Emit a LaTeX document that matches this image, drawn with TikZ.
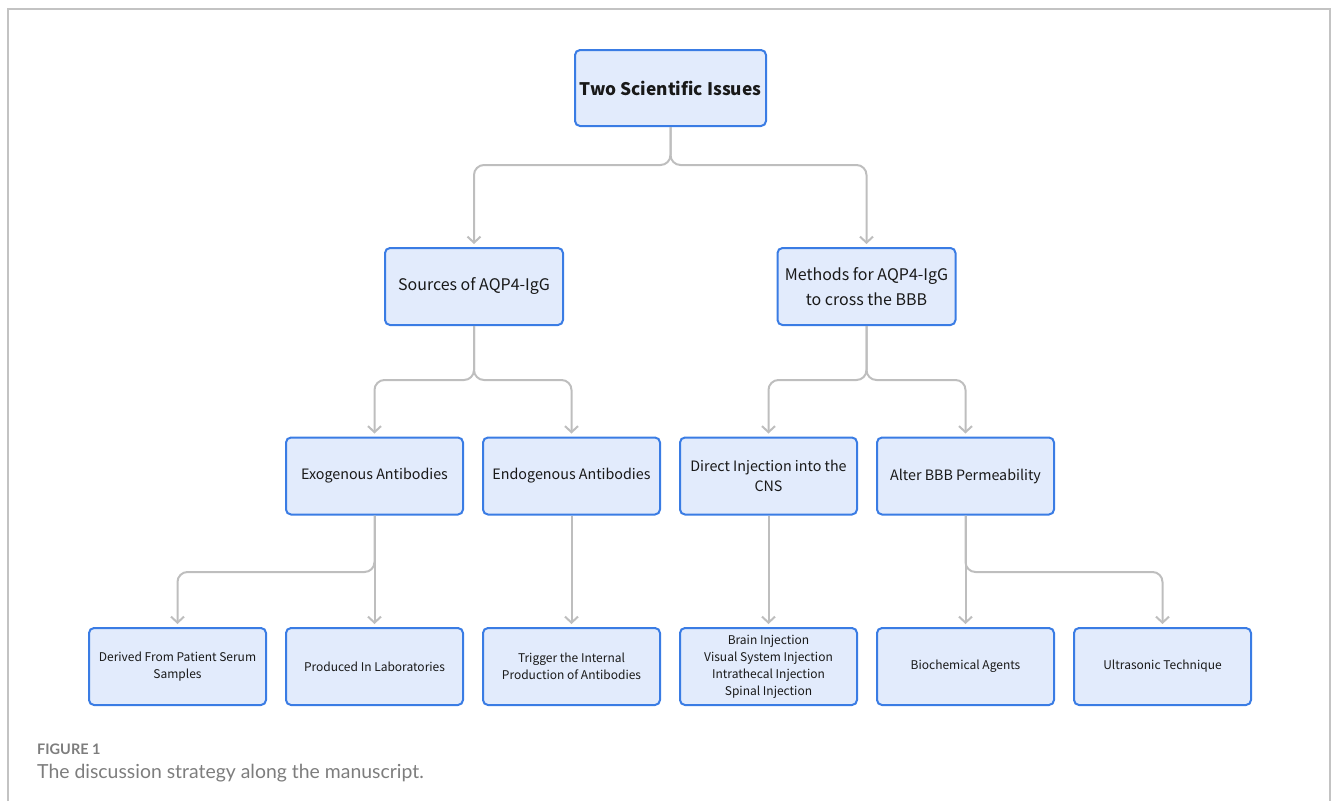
\documentclass[tikz,border=0pt]{standalone}
\usepackage{fontspec}
\setmainfont{Noto Sans CJK SC}
\newfontfamily\capfont{Lato}
\usetikzlibrary{arrows.meta}
\definecolor{boxfill}{RGB}{226,235,252}
\definecolor{boxline}{RGB}{58,124,228}
\definecolor{connline}{RGB}{190,190,190}
\definecolor{framegray}{RGB}{195,195,195}
\definecolor{capgray}{RGB}{125,125,125}
\tikzset{
  box/.style={draw=boxline, fill=boxfill, line width=2pt, rounded corners=5pt,
    minimum width=177pt, minimum height=77pt, inner sep=2pt, align=center, text=black!90},
  lvtop/.style={box, minimum width=191pt, minimum height=76pt, font=\fontsize{17.3}{21}\selectfont\bfseries},
  lvtwo/.style={box, minimum width=178pt, font=\fontsize{16}{25}\selectfont},
  lvthree/.style={box, font=\fontsize{14.3}{20}\selectfont},
  lvfour/.style={box, font=\fontsize{12}{17}\selectfont},
  conn/.style={draw=connline, line width=2pt, rounded corners=10pt,
    -{Straight Barb[length=6pt,width=13pt,line width=2pt]}, shorten >=3pt},
}
\begin{document}
\begin{tikzpicture}[x=1pt,y=-1pt]
\useasboundingbox (0,0) rectangle (1331,801);
% frame
\draw[framegray, line width=1.5pt] (8,801) -- (8,9) -- (1330,9) -- (1330,801);
% nodes
\node[lvtop] (top) at (670.5,88) {Two Scientific Issues};
\node[lvtwo] (src) at (474,286.5) {Sources of AQP4-IgG};
\node[lvtwo] (meth) at (866.5,286.5) {Methods for AQP4-IgG\\to cross the BBB};
\node[lvthree] (exo) at (374.5,476) {Exogenous Antibodies};
\node[lvthree] (endo) at (571.5,476) {Endogenous Antibodies};
\node[lvthree] (direct) at (768.5,476) {Direct Injection into the\\CNS};
\node[lvthree] (alter) at (965.5,476) {Alter BBB Permeability};
\node[lvfour] (derived) at (177.5,666.5) {Derived From Patient Serum\\Samples};
\node[lvfour] (lab) at (374.5,666.5) {Produced In Laboratories};
\node[lvfour] (trig) at (571.5,666.5) {Trigger the Internal\\Production of Antibodies};
\node[lvfour] (inj) at (768.5,666.5) {Brain Injection\\Visual System Injection\\Intrathecal Injection\\Spinal Injection};
\node[lvfour] (bio) at (965.5,666.5) {Biochemical Agents};
\node[lvfour] (ultra) at (1162.5,666.5) {Ultrasonic Technique};
% connectors
\draw[conn] (top.south) -- (top.south |- 0,165) -| (src.north);
\draw[conn] (top.south) -- (top.south |- 0,165) -| (meth.north);
\draw[conn] (src.south) -- (src.south |- 0,380) -| (exo.north);
\draw[conn] (src.south) -- (src.south |- 0,380) -| (endo.north);
\draw[conn] (meth.south) -- (meth.south |- 0,380) -| (direct.north);
\draw[conn] (meth.south) -- (meth.south |- 0,380) -| (alter.north);
\draw[conn] (exo.south) -- (lab.north);
\draw[conn] (exo.south) -- (exo.south |- 0,572) -| (derived.north);
\draw[conn] (endo.south) -- (trig.north);
\draw[conn] (direct.south) -- (inj.north);
\draw[conn] (alter.south) -- (bio.north);
\draw[conn] (alter.south) -- (alter.south |- 0,572) -| (ultra.north);
% caption
\node[anchor=base west, inner sep=0pt, text=capgray, font=\capfont\fontsize{14.5}{18}\selectfont\bfseries] (figlab) at (37,754) {FIGURE 1};
\node[anchor=base west, inner sep=0pt, text=capgray, font=\capfont\fontsize{19.4}{23}\selectfont] (cap) at (37,778) {The discussion strategy along the manuscript.};
\end{tikzpicture}
\end{document}
